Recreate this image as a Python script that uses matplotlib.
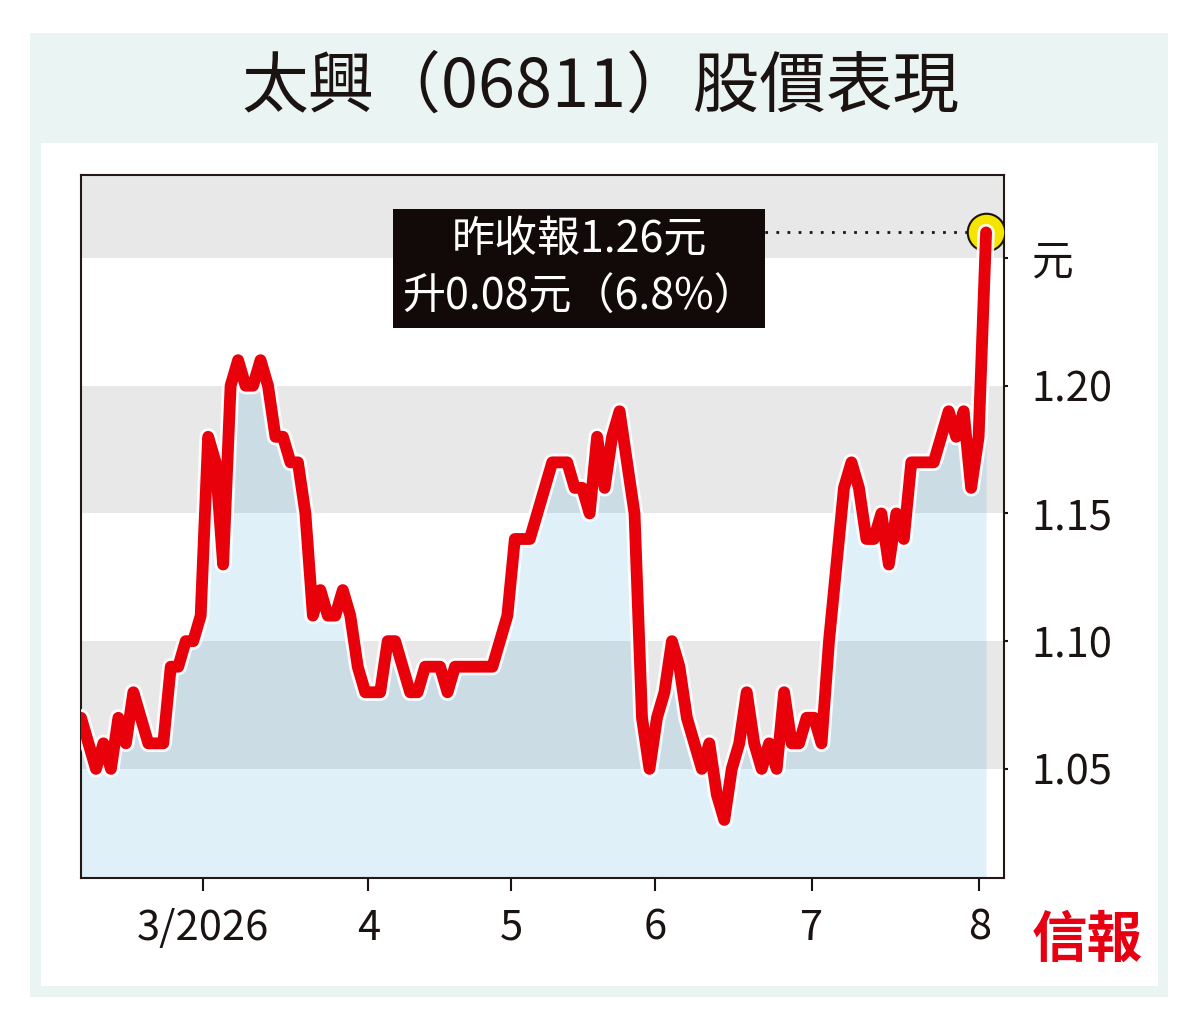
import matplotlib.pyplot as plt
from matplotlib.patches import Rectangle
import matplotlib.patheffects as pe

plt.rcParams['font.family'] = ['Noto Sans CJK TC', 'DejaVu Sans']

# daily closing price (trading days, Feb - early Aug 2026)
price = [
    1.07, 1.06, 1.05, 1.06, 1.05, 1.07, 1.06, 1.08, 1.07, 1.06,
    1.06, 1.06, 1.09, 1.09, 1.10, 1.10, 1.11, 1.18, 1.17, 1.13,
    1.20, 1.21, 1.20, 1.20, 1.21, 1.20, 1.18, 1.18, 1.17, 1.17,
    1.15, 1.11, 1.12, 1.11, 1.11, 1.12, 1.11, 1.09, 1.08, 1.08,
    1.08, 1.10, 1.10, 1.09, 1.08, 1.08, 1.09, 1.09, 1.09, 1.08,
    1.09, 1.09, 1.09, 1.09, 1.09, 1.09, 1.10, 1.11, 1.14, 1.14,
    1.14, 1.15, 1.16, 1.17, 1.17, 1.17, 1.16, 1.16, 1.15, 1.18,
    1.16, 1.18, 1.19, 1.17, 1.15, 1.07, 1.05, 1.07, 1.08, 1.10,
    1.09, 1.07, 1.06, 1.05, 1.06, 1.04, 1.03, 1.05, 1.06, 1.08,
    1.06, 1.05, 1.06, 1.05, 1.08, 1.06, 1.06, 1.07, 1.07, 1.06,
    1.10, 1.13, 1.16, 1.17, 1.16, 1.14, 1.14, 1.15, 1.13, 1.15,
    1.14, 1.17, 1.17, 1.17, 1.17, 1.18, 1.19, 1.18, 1.19, 1.16,
    1.18, 1.26,
]
days = list(range(len(price)))

# month ticks (trading-day index)
month_pos = [16.3, 38.4, 57.5, 76.7, 97.7, 120.1]
month_labels = ['3/2026', '4', '5', '6', '7', '8']

y_ticks = [1.05, 1.10, 1.15, 1.20, 1.25]
y_labels = ['1.05', '1.10', '1.15', '1.20', '元']
bands = [(1.05, 1.10), (1.15, 1.20), (1.25, 1.30)]

title = '太興（06811）股價表現'
note = '昨收報1.26元\n升0.08元（6.8%）'

fig = plt.figure(figsize=(12, 10.34), dpi=100)
fig.patches.append(Rectangle((0.025, 0.0358), 0.9483, 0.9323, transform=fig.transFigure,
                             fc='#eaf5f3', ec='none', zorder=-10))
fig.patches.append(Rectangle((0.0342, 0.0464), 0.9308, 0.8153, transform=fig.transFigure,
                             fc='white', ec='none', zorder=-9))
fig.text(0.5, 0.915, title, ha='center', va='center', fontsize=48, color='#1a1311')
fig.text(0.906, 0.09, '信報', ha='center', va='center', fontsize=40,
         fontweight='bold', color='#e60012')

ax = fig.add_axes([0.0675, 0.1509, 0.7692, 0.6799])
ax.set_xlim(0, 123.4)
ax.set_ylim(1.0073, 1.2825)

for lo, hi in bands:
    ax.axhspan(lo, hi, color='#e8e8e8', lw=0, zorder=0)

ax.fill_between(days, price, 1.0073, color='#098cd8', alpha=0.13, lw=0, zorder=1)

ax.plot([days[-1] - 40, days[-1]], [price[-1], price[-1]], color='#1a1311',
        lw=2, ls=(0, (1, 3)), zorder=2)
ax.plot(days[-1], price[-1], 'o', ms=27, mfc='#f5e400', mec='#1a1311', mew=1.5, zorder=3)
ax.plot(days, price, color='#e8000b', lw=8.5, solid_joinstyle='round',
        solid_capstyle='round', zorder=4,
        path_effects=[pe.Stroke(linewidth=12.5, foreground='white', alpha=0.9), pe.Normal()])

ax.text(66.6, 1.2458, note, ha='center', va='center', fontsize=31, color='white',
        linespacing=1.4, zorder=5,
        bbox=dict(boxstyle='square,pad=0.2', fc='#120a08', ec='none'))

ax.yaxis.tick_right()
ax.set_yticks(y_ticks)
ax.set_yticklabels(y_labels)
ax.set_xticks(month_pos)
ax.set_xticklabels(month_labels)
ax.tick_params(axis='y', length=3, width=1.5, pad=17, labelsize=30, colors='#1a1311')
ax.tick_params(axis='x', length=9.5, width=1.5, pad=12, labelsize=30, colors='#1a1311')
for s in ax.spines.values():
    s.set_linewidth(1.5)
    s.set_color('#231815')

fig.savefig('out.png', dpi=100)
